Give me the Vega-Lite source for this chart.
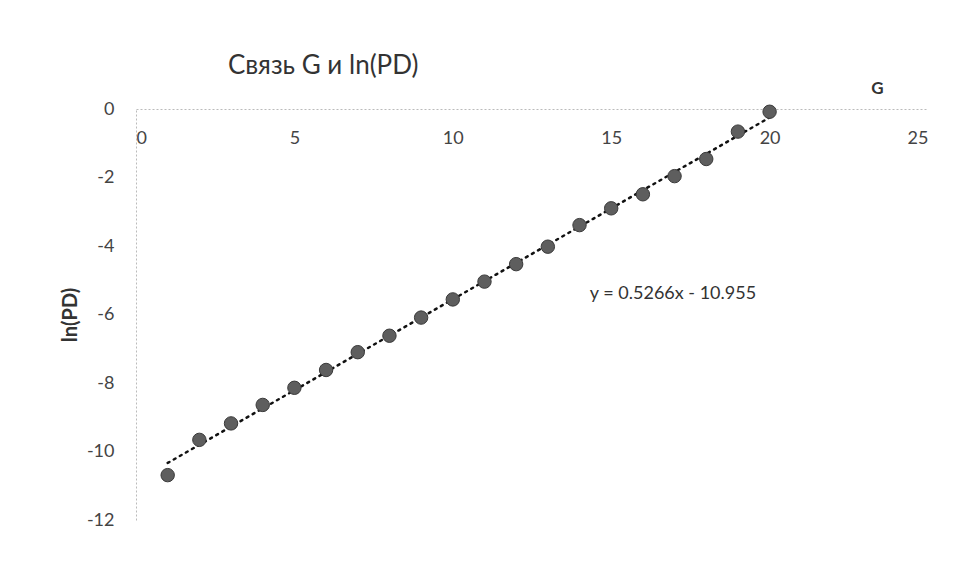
{
  "$schema": "https://vega.github.io/schema/vega-lite/v6.json",
  "autosize": {"type": "none"},
  "width": 792,
  "height": 411,
  "padding": {"left": 136, "top": 109, "right": 34, "bottom": 62},
  "background": "white",
  "title": {
    "text": "Связь G и ln(PD)",
    "anchor": "start",
    "frame": "group",
    "dx": 92,
    "offset": 0,
    "font": "Lato",
    "fontSize": 26,
    "fontWeight": "normal",
    "color": "#333"
  },
  "config": {
    "view": {"stroke": null},
    "axis": {"labelFont": "Lato", "titleFont": "Lato", "labelColor": "#444", "titleColor": "#333"}
  },
  "datasets": {
    "pts": [
      {"G": 1, "lnPD": -10.69},
      {"G": 2, "lnPD": -9.66},
      {"G": 3, "lnPD": -9.18},
      {"G": 4, "lnPD": -8.64},
      {"G": 5, "lnPD": -8.14},
      {"G": 6, "lnPD": -7.62},
      {"G": 7, "lnPD": -7.1},
      {"G": 8, "lnPD": -6.62},
      {"G": 9, "lnPD": -6.09},
      {"G": 10, "lnPD": -5.56},
      {"G": 11, "lnPD": -5.04},
      {"G": 12, "lnPD": -4.53},
      {"G": 13, "lnPD": -4.02},
      {"G": 14, "lnPD": -3.39},
      {"G": 15, "lnPD": -2.9},
      {"G": 16, "lnPD": -2.49},
      {"G": 17, "lnPD": -1.96},
      {"G": 18, "lnPD": -1.46},
      {"G": 19, "lnPD": -0.66},
      {"G": 20, "lnPD": -0.08}
    ],
    "eq": [{"G": 16.95, "lnPD": -5.4, "label": "y = 0.5266x - 10.955"}]
  },
  "layer": [
    {
      "data": {"name": "pts"},
      "transform": [{"regression": "lnPD", "on": "G", "extent": [1, 20]}],
      "mark": {"type": "line", "color": "#111", "strokeWidth": 2.5, "strokeDash": [2, 5], "strokeCap": "round"},
      "encoding": {
        "x": {"field": "G", "type": "quantitative", "scale": {"domain": [0, 25], "nice": false},
          "axis": {"orient": "bottom", "offset": -411, "values": [0, 5, 10, 15, 20, 25], "ticks": false, "grid": false,
            "domainColor": "#bbb", "domainDash": [2, 2], "labelFontSize": 18, "labelPadding": 20,
            "labelExpr": "toString(datum.value)",
            "title": "G", "titleFontSize": 17, "titleFontWeight": "bold", "titleX": 741, "titleY": -21, "titleBaseline": "middle", "titleAlign": "center"}},
        "y": {"field": "lnPD", "type": "quantitative", "scale": {"domain": [-12, 0], "nice": false},
          "axis": {"values": [0, -2, -4, -6, -8, -10, -12], "ticks": false, "grid": false,
            "domainColor": "#bbb", "domainDash": [2, 2], "labelFontSize": 18, "labelPadding": 22,
            "labelExpr": "toString(datum.value)",
            "title": "ln(PD)", "titleFontSize": 20, "titleFontWeight": "bold", "titlePadding": 6}}
      }
    },
    {
      "data": {"name": "pts"},
      "mark": {"type": "circle", "size": 180, "color": "#5e5e5e", "opacity": 1, "stroke": "#3a3a3a", "strokeWidth": 1},
      "encoding": {
        "x": {"field": "G", "type": "quantitative"},
        "y": {"field": "lnPD", "type": "quantitative"}
      }
    },
    {
      "data": {"name": "eq"},
      "mark": {"type": "text", "font": "Lato", "fontSize": 18, "color": "#333", "align": "center", "baseline": "middle"},
      "encoding": {
        "x": {"field": "G", "type": "quantitative"},
        "y": {"field": "lnPD", "type": "quantitative"},
        "text": {"field": "label"}
      }
    }
  ]
}
